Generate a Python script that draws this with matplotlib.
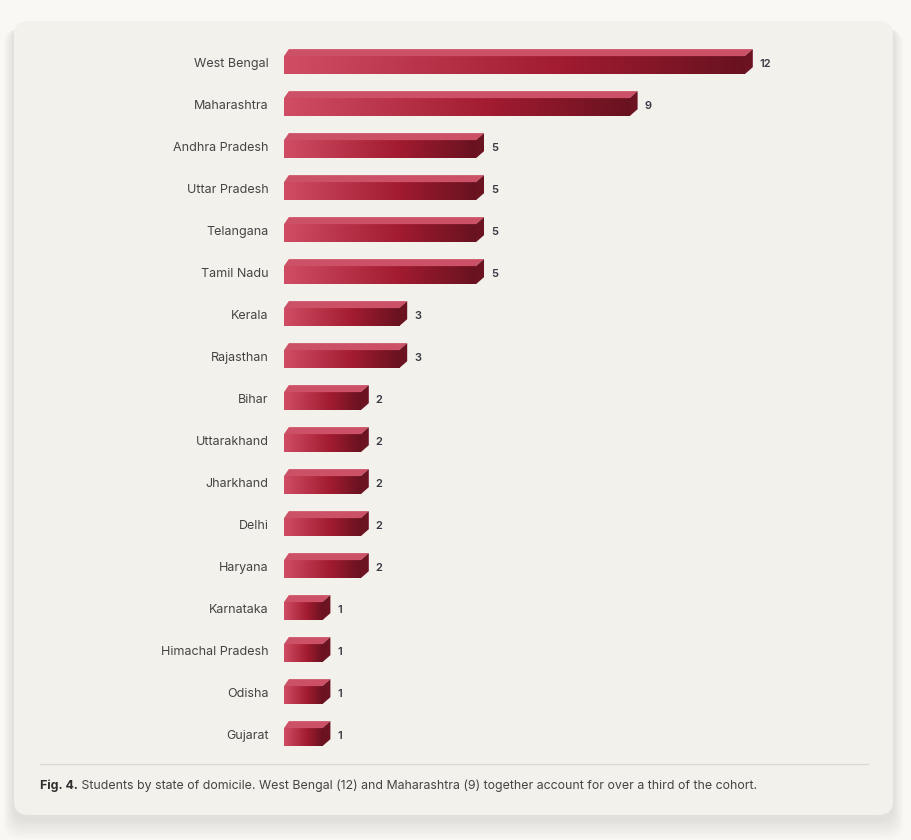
import numpy as np
import matplotlib.pyplot as plt
from matplotlib.patches import FancyBboxPatch, Rectangle, Polygon
from matplotlib.colors import LinearSegmentedColormap

plt.rcParams['font.family'] = ['Inter', 'DejaVu Sans']

states = ["West Bengal", "Maharashtra", "Andhra Pradesh", "Uttar Pradesh", "Telangana",
          "Tamil Nadu", "Kerala", "Rajasthan", "Bihar", "Uttarakhand", "Jharkhand",
          "Delhi", "Haryana", "Karnataka", "Himachal Pradesh", "Odisha", "Gujarat"]
students = [12, 9, 5, 5, 5, 5, 3, 3, 2, 2, 2, 2, 2, 1, 1, 1, 1]
caption_bold = "Fig. 4."
caption_text = (" Students by state of domicile. West Bengal (12) and Maharashtra (9) "
                "together account for over a third of the cohort.")

W, H = 912, 840
fig = plt.figure(figsize=(W / 100, H / 100), dpi=100)
fig.patch.set_facecolor('#f9f8f5')

# card with soft shadow (stacked translucent layers)
for k in range(8):
    grow = (8 - k) * 2.5
    sh = FancyBboxPatch(((14 - grow * 0.5) / W, (840 - 815 - grow - 4) / H),
                        (879 + grow) / W, (794 + grow * 0.8) / H,
                        boxstyle="round,pad=0,rounding_size=0.018",
                        transform=fig.transFigure, facecolor='#000000', alpha=0.012,
                        edgecolor='none', zorder=0)
    fig.patches.append(sh)
card = FancyBboxPatch((14 / W, (840 - 815) / H), 879 / W, 794 / H,
                      boxstyle="round,pad=0,rounding_size=0.016",
                      transform=fig.transFigure, facecolor='#f3f1ec',
                      edgecolor='none', zorder=1)
fig.patches.append(card)

# axes: x=0 at 284px, 38.4 px per student; rows 42px apart starting at y=62
px_per_unit = 38.4
xmax = 12.6
top_px, bot_px = 62 - 21, 734 + 21
ax = fig.add_axes([284 / W, 1 - bot_px / H, xmax * px_per_unit / W, (bot_px - top_px) / H])
ax.set_xlim(0, xmax)
ax.set_ylim(len(states) - 0.5, -0.5)
ax.axis('off')
ax.set_zorder(2)

dx = 8 / px_per_unit
dy = 7 / 42
front_top, front_bot = -0.14, 0.29

cmap = LinearSegmentedColormap.from_list('bar', [(0, '#d04d63'), (0.6, '#a21b30'), (1, '#681220')])
grad = np.linspace(0, 1, 256).reshape(1, -1)

for i, (name, v) in enumerate(zip(states, students)):
    y0, y1 = i + front_top, i + front_bot
    rect = Rectangle((0, y0), v, y1 - y0, facecolor='none', edgecolor='none')
    ax.add_patch(rect)
    im = ax.imshow(grad, cmap=cmap, aspect='auto', extent=(0, v, y1, y0),
                   interpolation='bilinear', zorder=3)
    im.set_clip_path(rect)
    top = Polygon([(0, y0), (dx * 0.6, y0 - dy), (v + dx, y0 - dy), (v, y0)],
                  closed=True, facecolor='#cc5166', edgecolor='none', zorder=3)
    ax.add_patch(top)
    side = Polygon([(v, y0), (v + dx, y0 - dy), (v + dx, y1 - dy), (v, y1)],
                   closed=True, facecolor='#6c1322', edgecolor='none', zorder=3)
    ax.add_patch(side)
    ax.annotate(str(v), (v + dx, i + 0.04), xytext=(5, 0), textcoords='offset points',
                ha='left', va='center', fontsize=8, fontweight='semibold', color='#3a3a44')
    ax.annotate(name, (0, i + 0.04), xytext=(-11, 0), textcoords='offset points',
                ha='right', va='center', fontsize=9, color='#444444')

ax.set_xlim(0, xmax)
ax.set_ylim(len(states) - 0.5, -0.5)

# divider and caption
fig.add_artist(plt.Line2D([40 / W, 868 / W], [1 - 764 / H, 1 - 764 / H],
                          color='#dcd9d3', lw=1, zorder=3))
t = fig.text(40 / W, 1 - 786 / H, caption_bold, fontsize=8.9, fontweight='bold',
             color='#2e2e2e', va='center', ha='left', zorder=3)
fig.canvas.draw()
bb = t.get_window_extent()
fig.text(bb.x1 / W, 1 - 786 / H, caption_text, fontsize=8.9, color='#444444',
         va='center', ha='left', zorder=3)

fig.savefig('out.png', dpi=100, facecolor=fig.get_facecolor())
